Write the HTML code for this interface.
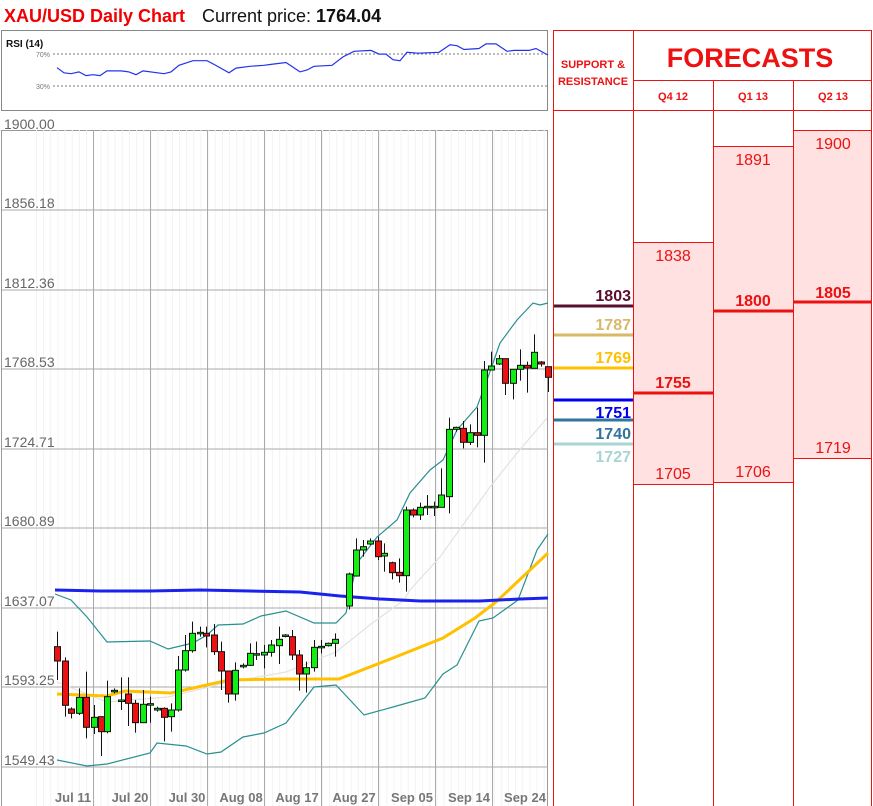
<!DOCTYPE html>
<html><head><meta charset="utf-8"><style>
body{margin:0;width:873px;height:806px;background:#fff;overflow:hidden;font-family:"Liberation Sans",sans-serif}
svg{position:absolute;left:0;top:0}
</style></head><body>
<svg id="s" width="873" height="806" xmlns="http://www.w3.org/2000/svg" font-family="Liberation Sans, sans-serif">
<text x="4" y="22" font-size="18" font-weight="bold" fill="#f00000">XAU/USD Daily Chart</text>
<text x="202" y="22" font-size="18" fill="#111">Current price: <tspan font-weight="bold">1764.04</tspan></text>
<!-- RSI panel -->
<rect x="1.5" y="30.5" width="546" height="80" fill="#fff" stroke="#888"/>
<text x="6" y="47" font-size="10" font-weight="bold" fill="#111">RSI (14)</text>
<line x1="53" y1="54" x2="547" y2="54" stroke="#777" stroke-dasharray="2,2"/>
<line x1="53" y1="86" x2="547" y2="86" stroke="#777" stroke-dasharray="2,2"/>
<text x="36" y="57" font-size="7" fill="#777">70%</text>
<text x="36" y="89" font-size="7" fill="#777">30%</text>
<polyline fill="none" stroke="#2233ee" stroke-width="1.2" points="57,67.7 64,72.8 71,73.7 79,71.9 86,75.6 93,74.7 100,75.6 107,70.9 121,70.9 129,71.9 136,74.7 143,70.9 164,73.7 171,71.9 179,65.3 193,60.7 207,60.7 214,64.4 229,72.8 236,68.1 250,66.3 264,65.3 271,64.4 286,62.5 300,71.9 307,70 314,66.3 332,65.3 343,56.9 354,51.3 371,50.4 379,54.1 386,54.1 393,59.7 400,60.7 407,52.3 418,53.2 439,52.3 450,44.8 457,45.7 464,49.5 479,48.5 486,43.9 496,43.9 507,51.3 514,50.4 529,50.4 536,48.5 548,55.1"/>
<!-- main chart frame -->
<rect x="1.5" y="130.5" width="546" height="680" fill="#fff" stroke="#999"/>
<g id="minor" stroke="#f3f3f3" stroke-width="1"></g>
<g stroke="#aaa" stroke-width="1">
<line x1="2" y1="210" x2="548" y2="210"/><line x1="2" y1="290" x2="548" y2="290"/><line x1="2" y1="369" x2="548" y2="369"/><line x1="2" y1="449" x2="548" y2="449"/><line x1="2" y1="528" x2="548" y2="528"/><line x1="2" y1="608" x2="548" y2="608"/><line x1="2" y1="687" x2="548" y2="687"/><line x1="2" y1="767" x2="548" y2="767"/>
<line x1="93.5" y1="130" x2="93.5" y2="806"/><line x1="150.5" y1="130" x2="150.5" y2="806"/><line x1="207.5" y1="130" x2="207.5" y2="806"/><line x1="264.5" y1="130" x2="264.5" y2="806"/><line x1="321.5" y1="130" x2="321.5" y2="806"/><line x1="378.5" y1="130" x2="378.5" y2="806"/><line x1="435.5" y1="130" x2="435.5" y2="806"/><line x1="492.5" y1="130" x2="492.5" y2="806"/>
</g>
<g font-size="14" fill="#666">
<text x="4" y="129">1900.00</text><text x="4" y="208">1856.18</text><text x="4" y="288">1812.36</text><text x="4" y="367">1768.53</text><text x="4" y="447">1724.71</text><text x="4" y="526">1680.89</text><text x="4" y="606">1637.07</text><text x="4" y="685">1593.25</text><text x="4" y="765">1549.43</text>
</g>
<g font-size="13" font-weight="bold" fill="#777" text-anchor="middle">
<text x="73" y="802">Jul 11</text><text x="130" y="802">Jul 20</text><text x="187" y="802">Jul 30</text><text x="241" y="802">Aug 08</text><text x="297" y="802">Aug 17</text><text x="354" y="802">Aug 27</text><text x="412" y="802">Sep 05</text><text x="469" y="802">Sep 14</text><text x="525" y="802">Sep 24</text>
</g>
<!-- indicators -->
<polyline fill="none" stroke="#e2e2e2" stroke-width="1.2" points="57,682 107,702 168,697 229,682 286,672 336,652 371,624 404,600 410,590 440,557 490,487 517,453 547,418"/>
<polyline fill="none" stroke="#2a8f8f" stroke-width="1.2" points="55,594 71,600 87,617 107,642 150,641 168,649 193,643 207,635 218,625 243,624 261,616 286,611 314,623 336,623 346,613 357,563 377,537 397,520 410,493 430,470 443,460 457,430 477,407 487,380 500,343 517,320 533,303 540,305 548,303"/>
<polyline fill="none" stroke="#2a8f8f" stroke-width="1.2" points="57,760 87,766 107,764 150,753 157,743 186,746 207,754 221,752 243,737 264,733 286,723 314,687 336,685 364,715 393,707 425,698 443,674 457,665 479,621 493,618 518,600 537,550 548,534"/>
<polyline fill="none" stroke="#ffc000" stroke-width="3" points="57,694 107,696 125,691 171,693 229,680 286,679 339,679 393,658 443,638 475,618 496,602 548,553"/>
<polyline fill="none" stroke="#1a22ee" stroke-width="3" points="55,590 100,591 150,591 200,590 250,591 300,592 340,596 380,599 420,601 480,601 520,599 548,598"/>
<g id="candles"></g>
<!-- table -->
<g fill="#ffe1e1"><rect x="633" y="242" width="80" height="242"/><rect x="713" y="146" width="80" height="336"/><rect x="793" y="130" width="79" height="328"/></g>
<g stroke="#ee1111" stroke-width="1" fill="none">
<rect x="553.5" y="30.5" width="318" height="790"/>
<line x1="633.5" y1="30" x2="633.5" y2="806"/><line x1="713.5" y1="80" x2="713.5" y2="806"/><line x1="793.5" y1="80" x2="793.5" y2="806"/>
<line x1="633" y1="80.5" x2="872" y2="80.5"/><line x1="553" y1="110.5" x2="872" y2="110.5"/>
<line x1="633" y1="242.5" x2="713" y2="242.5"/><line x1="633" y1="484.5" x2="713" y2="484.5"/>
<line x1="713" y1="146.5" x2="793" y2="146.5"/><line x1="713" y1="482.5" x2="793" y2="482.5"/>
<line x1="793" y1="130.5" x2="872" y2="130.5"/><line x1="793" y1="458.5" x2="872" y2="458.5"/>
</g>
<g fill="#ee1111" font-weight="bold" text-anchor="middle">
<text x="593" y="68" font-size="11">SUPPORT &amp;</text><text x="593" y="85" font-size="11">RESISTANCE</text>
<text x="750" y="67" font-size="27">FORECASTS</text>
<text x="673" y="100" font-size="11">Q4 12</text><text x="753" y="100" font-size="11">Q1 13</text><text x="833" y="100" font-size="11">Q2 13</text>
</g>
<g fill="#ee1111" font-size="16" text-anchor="middle">
<text x="673" y="261">1838</text><text x="673" y="479">1705</text>
<text x="753" y="165">1891</text><text x="753" y="477">1706</text>
<text x="833" y="149">1900</text><text x="833" y="453">1719</text>
</g>
<g fill="#ee1111" font-size="16" font-weight="bold" text-anchor="middle">
<text x="673" y="388">1755</text><text x="753" y="306">1800</text><text x="833" y="298">1805</text>
</g>
<g stroke="#ee1111" stroke-width="3">
<line x1="634" y1="393" x2="713" y2="393"/><line x1="714" y1="311" x2="793" y2="311"/><line x1="794" y1="302" x2="872" y2="302"/>
</g>
<g stroke-width="3">
<line x1="554" y1="306" x2="633" y2="306" stroke="#5a0f2e"/>
<line x1="554" y1="335" x2="633" y2="335" stroke="#d9b86a"/>
<line x1="554" y1="368" x2="633" y2="368" stroke="#ffc000"/>
<line x1="554" y1="400" x2="633" y2="400" stroke="#0000ee"/>
<line x1="554" y1="420" x2="633" y2="420" stroke="#31749d"/>
<line x1="554" y1="444" x2="633" y2="444" stroke="#a8d4d4"/>
</g>
<g font-size="16" font-weight="bold" text-anchor="end">
<text x="631" y="301" fill="#5a0f2e">1803</text>
<text x="631" y="330" fill="#d9b86a">1787</text>
<text x="631" y="363" fill="#ffc000">1769</text>
<text x="631" y="418" fill="#0000ee">1751</text>
<text x="631" y="439" fill="#31749d">1740</text>
<text x="631" y="462" fill="#a8d4d4">1727</text>
</g>
</svg>
<script>
var NS="http://www.w3.org/2000/svg";
var mg=document.getElementById("minor");
for(var x=36.5;x<548;x+=7.15){var l=document.createElementNS(NS,"line");l.setAttribute("x1",x);l.setAttribute("x2",x);l.setAttribute("y1",130);l.setAttribute("y2",806);mg.appendChild(l);}
var a=[[160,140,183,95,240,0],[181,183,316,172,350,0],[199,327,340,322,355,0],[220,292,340,265,345,1],[241,292,382,215,415,0],[262,352,382,315,402,1],[282,350,395,352,468,0],[300,290,395,242,400,1],[320,271,274,265,280,1],[339,300,303,232,330,1],[358,282,310,232,378,0],[379,310,368,300,398,0],[401,313,368,270,368,1],[421,311,314,290,368,1],[439,325,330,320,335,1],[460,325,352,322,424,0],[480,330,350,310,395,1],[499,210,330,168,335,1],[519,152,210,105,215,1],[538,100,152,65,158,1],[559,97,100,80,110,1],[578,100,108,80,142,0],[600,105,155,72,165,0],[620,155,213,125,270,0],[638,213,282,213,308,0],[659,211,282,187,302,1],[680,196,199,190,205,1],[699,160,196,130,198,1],[718,161,164,125,180,1],[738,157,165,135,205,1],[759,135,157,120,170,1],[780,118,137,80,192,1],[798,105,108,102,112,1],[818,110,165,90,180,0],[838,165,222,150,272,0],[857,203,222,185,278,1],[878,142,203,120,215,1],[898,139,142,120,160,1],[918,130,137,128,140,1],[938,118,130,100,170,1]];
var c=[];
a.forEach(function(d){c.push([d[0]/2.8,600+d[1]/3,600+d[2]/3,600+d[3]/3,600+d[4]/3,d[5]]);});
var b=[[37,852,960,850,960,1],[58,852,948,848,958,1],[79,780,858,745,860,1],[100,770,780,750,800,1],[121,753,762,745,765,1],[143,753,800,740,810,0],[163,790,798,760,845,1],[186,818,848,815,868,0],[206,847,857,805,878,0],[229,660,857,650,905,1],[250,660,675,655,682,0],[271,652,675,638,690,1],[292,649,652,615,675,1],[313,649,652,635,678,1],[334,615,652,535,652,1],[356,418,620,383,670,1],[378,412,418,410,425,1],[400,415,457,393,475,0],[421,428,457,403,465,1],[442,428,436,353,472,0],[463,240,436,213,518,1],[484,228,240,185,240,1],[506,206,222,195,225,1],[525,206,280,206,315,0],[549,238,280,238,328,1],[571,226,238,178,272,1],[592,226,234,215,308,0],[613,187,235,133,235,1],[634,216,222,213,230,0],[655,230,262,230,306,0]];
b.slice(1).forEach(function(d){c.push([330+d[0]/3,290+d[1]/3,290+d[2]/3,290+d[3]/3,290+d[4]/3,d[5]]);});
var g=document.getElementById("candles");
c.forEach(function(d){
 var x=Math.round(d[0])+0.5;
 var l=document.createElementNS(NS,"line");l.setAttribute("x1",x);l.setAttribute("x2",x);l.setAttribute("y1",d[3]);l.setAttribute("y2",d[4]);l.setAttribute("stroke","#111");g.appendChild(l);
 var r=document.createElementNS(NS,"rect");var h=Math.max(1.5,d[2]-d[1]);
 r.setAttribute("x",x-3);r.setAttribute("y",d[1]);r.setAttribute("width",6);r.setAttribute("height",h);
 r.setAttribute("fill",d[5]?"#11ee11":"#ee1111");r.setAttribute("stroke","#111");r.setAttribute("stroke-width","1");g.appendChild(r);
});
</script>
</body></html>
